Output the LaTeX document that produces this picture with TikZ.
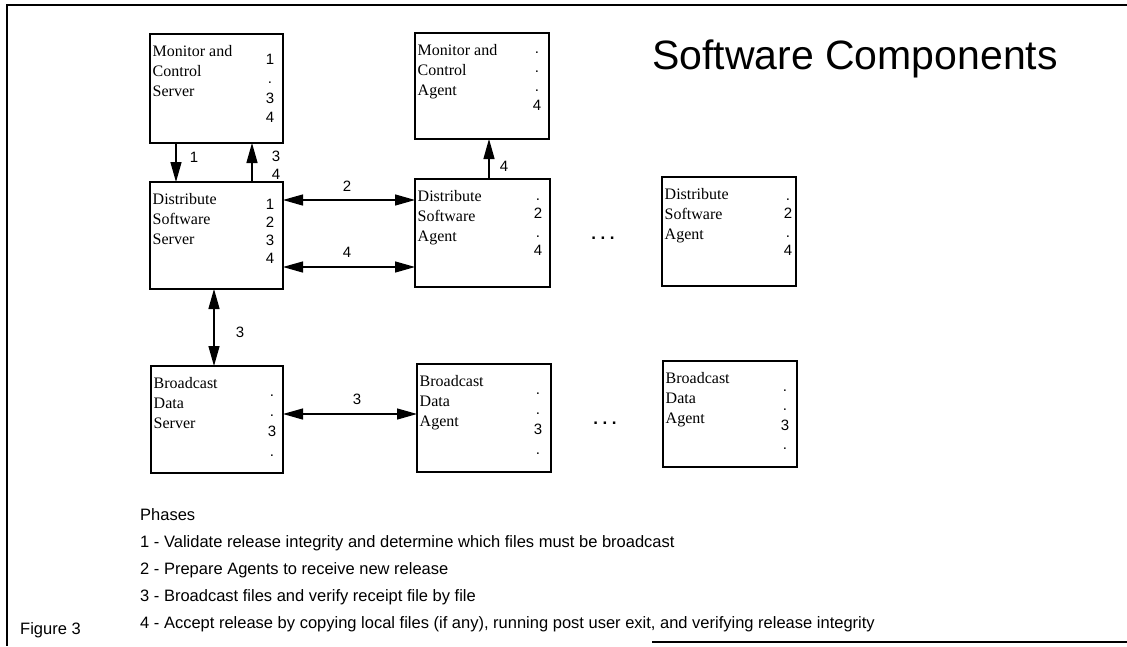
\documentclass[tikz,border=0pt]{standalone}
\usepackage{fontspec}
\setmainfont{Liberation Serif}
\newfontfamily\hv{Liberation Sans}
\usetikzlibrary{arrows.meta}
\newcommand\numcol[5]{%
  \foreach \t [count=\i from 0] in {#5}
    \node[num] (#1n\i) at ([shift={(#2,{#3+#4*\i})}]#1.north west) {\t};}
\begin{document}
\begin{tikzpicture}[x=1pt,y=-1pt,
  box/.style={draw, line width=1.6pt, inner sep=0, outer sep=0},
  boxtxt/.style={anchor=north west, inner sep=0, align=left, font=\fontsize{16}{20}\selectfont},
  num/.style={anchor=base, inner sep=0, font=\hv\fontsize{15}{18}\selectfont},
  lbl/.style={inner sep=0, font=\hv\fontsize{15}{18}\selectfont},
  ell/.style={inner sep=0, font=\hv\bfseries\fontsize{17}{18}\selectfont},
  arr/.style={line width=1.3pt, -{Triangle[length=20pt,width=11pt]}},
  dbl/.style={line width=1.3pt, {Triangle[length=20pt,width=11pt]}-{Triangle[length=20pt,width=11pt]}},
  frame/.style={line width=1.8pt},
  phase/.style={anchor=base west, inner sep=0, font=\hv\fontsize{16.5}{18}\selectfont}]
\useasboundingbox (0,0) rectangle (1127,646);
% frame
\draw[frame] (1127,5) -- (7,5) -- (7,646);
\draw[frame] (652,642) -- (1127,642);
% title
\node[anchor=base west, inner sep=0, font=\hv\fontsize{41}{46}\selectfont] (title) at (652,69) {Software Components};
% boxes
\node[box, minimum width=133, minimum height=109] (mcs) at (216.5,88.5) {};
\node[box, minimum width=134, minimum height=106] (mca) at (482,86) {};
\node[box, minimum width=133, minimum height=107] (dss) at (216.5,235.5) {};
\node[box, minimum width=135, minimum height=108] (dsa) at (482.5,233) {};
\node[box, minimum width=134, minimum height=109] (dsa3) at (729,231.5) {};
\node[box, minimum width=132, minimum height=107] (bds) at (217,419.5) {};
\node[box, minimum width=134, minimum height=108] (bda) at (484,418) {};
\node[box, minimum width=134, minimum height=106] (bda3) at (730,414) {};
% box texts
\node[boxtxt] (mcst) at ([shift={(2.5,11)}]mcs.north west) {Monitor and\\Control\\Server};
\node[boxtxt] (mcat) at ([shift={(2.5,11)}]mca.north west) {Monitor and\\Control\\Agent};
\node[boxtxt] (dsst) at ([shift={(2.5,11)}]dss.north west) {Distribute\\Software\\Server};
\node[boxtxt] (dsat) at ([shift={(2.5,11)}]dsa.north west) {Distribute\\Software\\Agent};
\node[boxtxt] (dsa3t) at ([shift={(2.5,11)}]dsa3.north west) {Distribute\\Software\\Agent};
\node[boxtxt] (bdst) at ([shift={(2.5,11)}]bds.north west) {Broadcast\\Data\\Server};
\node[boxtxt] (bdat) at ([shift={(2.5,11)}]bda.north west) {Broadcast\\Data\\Agent};
\node[boxtxt] (bda3t) at ([shift={(2.5,11)}]bda3.north west) {Broadcast\\Data\\Agent};
% number columns
\numcol{mcs}{120}{30}{19.5}{1,.,3,4}
\numcol{dss}{120}{27}{18}{1,2,3,4}
\numcol{mca}{122}{20}{19.3}{.,.,.,4}
\numcol{dsa}{123}{21}{18.5}{.,2,.,4}
\numcol{dsa3}{126}{23}{18.5}{.,2,.,4}
\numcol{bds}{121}{30}{20}{.,.,3,.}
\numcol{bda}{121}{30}{20}{.,.,3,.}
\numcol{bda3}{122}{30}{19.5}{.,.,3,.}
% connector coordinates
\coordinate (xa) at (176,0);
\coordinate (xb) at (252,0);
\coordinate (xc) at (489,0);
\coordinate (xd) at (214,0);
\coordinate (ya) at (0,200);
\coordinate (yb) at (0,267);
\coordinate (yc) at (0,414);
% connectors
\draw[arr] (xa |- mcs.south) -- (xa |- dss.north);
\draw[arr] (xb |- dss.north) -- (xb |- mcs.south);
\draw[arr] (xc |- dsa.north) -- (xc |- mca.south);
\draw[dbl] (dss.east |- ya) -- (dsa.west |- ya);
\draw[dbl] (dss.east |- yb) -- (dsa.west |- yb);
\draw[dbl] (xd |- dss.south) -- (xd |- bds.north);
\draw[dbl] (bds.east |- yc) -- (bda.west |- yc);
% connector labels
\node[lbl] (l1) at (194,157) {1};
\node[lbl] (l3a) at (276,156) {3};
\node[lbl] (l4a) at (276,174) {4};
\node[lbl] (l4b) at (504,166) {4};
\node[lbl] (l2) at (347,186) {2};
\node[lbl] (l4c) at (347,252) {4};
\node[lbl] (l3b) at (240,332) {3};
\node[lbl] (l3c) at (357,399) {3};
% ellipses
\node[ell] (dots1) at (603,238) {.\hspace{4.5pt}.\hspace{4.5pt}.};
\node[ell] (dots2) at (605,423) {.\hspace{4.5pt}.\hspace{4.5pt}.};
% phases
\node[phase] (ph) at (140,520) {Phases};
\node[phase] (p1) at (140,547) {1 - Validate release integrity and determine which files must be broadcast};
\node[phase] (p2) at (140,574) {2 - Prepare Agents to receive new release};
\node[phase] (p3) at (140,601) {3 - Broadcast files and verify receipt file by file};
\node[phase] (p4) at (140,628) {4 - Accept release by copying local files (if any), running post user exit, and verifying release integrity};
\node[phase] (fig) at (20,634) {Figure 3};
\end{tikzpicture}
\end{document}
